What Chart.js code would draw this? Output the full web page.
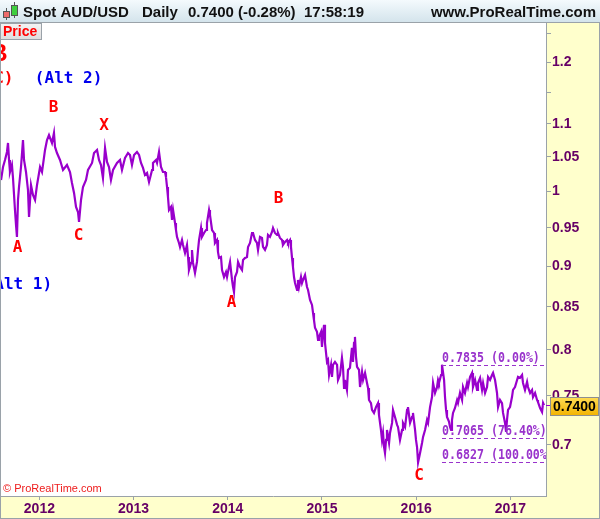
<!DOCTYPE html>
<html>
<head>
<meta charset="utf-8">
<title>Spot AUD/USD Daily</title>
<script src="https://cdn.jsdelivr.net/npm/chart.js@4.4.1/dist/chart.umd.min.js"></script>
<style>
  html, body { margin: 0; padding: 0; background: #fff; }
  #wrap { width: 600px; height: 519px; }
</style>
</head>
<body>
<div id="wrap"><canvas id="aud-canvas" width="600" height="519"></canvas></div>
<script>
(function() {
    'use strict';

    // AUD/USD daily closes (decimal year -> price)
    var dates = [
        2011.593,2011.614,2011.635,2011.656,2011.667,2011.678,2011.688,2011.709,2011.720,2011.741,2011.752,2011.762,2011.773,2011.784,2011.805,2011.826,2011.837,2011.858,2011.879,2011.890,2011.911,2011.932,2011.954,2011.975,
        2012.007,2012.028,2012.060,2012.081,2012.102,2012.134,2012.155,2012.166,2012.187,2012.219,2012.251,2012.293,2012.325,2012.346,2012.368,2012.389,2012.410,2012.421,2012.442,2012.463,2012.495,2012.516,2012.559,2012.580,2012.612,2012.633,
        2012.654,2012.675,2012.697,2012.718,2012.739,2012.760,2012.782,2012.824,2012.856,2012.877,2012.909,2012.941,2012.962,2012.983,
        2013.005,2013.036,2013.058,2013.079,2013.100,2013.121,2013.143,2013.164,2013.196,2013.206,2013.238,2013.249,2013.270,2013.291,2013.312,2013.334,2013.344,2013.355,2013.365,2013.376,2013.397,2013.408,2013.419,2013.440,2013.450,2013.461,2013.482,2013.493,2013.514,2013.525,2013.546,2013.567,2013.578,2013.588,2013.610,2013.620,2013.631,2013.652,2013.673,2013.684,2013.695,2013.716,2013.726,2013.748,2013.769,2013.779,2013.801,
        2013.811,2013.833,2013.854,2013.864,2013.886,2013.896,2013.907,2013.928,2013.939,2013.960,2013.981,2013.992,
        2014.013,2014.024,2014.045,2014.056,2014.066,2014.077,2014.098,2014.109,2014.130,2014.151,2014.162,2014.183,2014.204,2014.215,2014.236,2014.257,2014.268,2014.289,2014.310,2014.321,2014.342,2014.363,2014.374,2014.395,2014.416,2014.427,2014.448,2014.469,2014.480,2014.501,2014.523,2014.533,2014.554,2014.576,2014.586,2014.608,2014.629,2014.639,2014.661,2014.671,2014.682,2014.692,2014.703,2014.714,2014.735,2014.745,2014.756,2014.777,2014.788,2014.799,2014.820,2014.841,2014.852,
        2014.873,2014.894,2014.905,2014.915,2014.926,2014.947,2014.958,2014.968,2014.990,
        2015.000,2015.011,2015.022,2015.032,2015.053,2015.064,2015.075,2015.096,2015.106,2015.117,2015.138,2015.160,2015.170,2015.191,2015.212,2015.223,2015.234,2015.244,2015.265,2015.276,2015.297,2015.318,2015.329,2015.340,2015.350,2015.361,2015.372,2015.393,2015.404,2015.425,2015.436,2015.457,2015.478,2015.489,2015.499,2015.520,2015.531,2015.552,2015.573,2015.595,2015.605,2015.626,2015.637,2015.648,2015.659,2015.669,2015.680,2015.690,2015.712,2015.722,2015.744,2015.754,2015.775,2015.797,2015.807,2015.828,2015.850,2015.860,2015.882,2015.903,2015.913,2015.935,2015.956,2015.966,2015.988,2015.998,
        2016.009,2016.020,
        2016.041,2016.062,2016.073,2016.094,2016.115,2016.126,2016.147,2016.168,2016.179,2016.200,2016.221,2016.232,2016.242,2016.264,2016.274,2016.296,2016.306,2016.317,2016.327,2016.349,2016.359,2016.370,2016.380,2016.391,2016.412,2016.434,2016.444,2016.465,2016.487,2016.497,2016.518,2016.540,2016.550,2016.572,2016.593,2016.603,2016.625,2016.646,2016.656,2016.678,2016.699,2016.710,2016.731,2016.752,2016.763,2016.784,2016.805,2016.816,2016.837,2016.858,2016.869,2016.890,2016.911,2016.922,2016.943,2016.954,2016.964,2016.975,2016.996,
        2017.017,2017.028,2017.049,2017.071,2017.081,2017.102,2017.124,2017.134,2017.155,2017.177,2017.187,2017.209,2017.230,2017.240,2017.262,2017.283,2017.293,2017.315,2017.336,2017.347,2017.357
    ];
    var closes = [
        1.0163,1.0351,1.0454,1.0572,1.0707,1.0454,1.0278,1.0380,1.0192,0.9743,0.9539,0.9380,0.9881,1.0064,1.0351,1.0752,1.0454,1.0278,1.0021,0.9647,1.0092,0.9951,0.9881,1.0092,
        1.0351,1.0278,1.0602,1.0752,1.0828,1.0707,1.0859,1.0647,1.0557,1.0454,1.0307,1.0380,1.0278,1.0120,0.9979,0.9784,0.9715,0.9580,0.9881,1.0064,1.0163,1.0307,1.0410,1.0557,1.0602,1.0454,
        1.0380,1.0192,1.0632,1.0424,1.0351,1.0163,1.0307,1.0410,1.0454,1.0307,1.0483,1.0557,1.0528,1.0380,
        1.0528,1.0572,1.0528,1.0410,1.0337,1.0235,1.0264,1.0135,1.0307,1.0410,1.0454,1.0410,1.0572,1.0351,1.0278,1.0278,1.0206,1.0064,0.9923,0.9743,0.9784,0.9607,0.9743,0.9566,0.9472,0.9380,0.9300,0.9248,0.9340,0.9274,0.9170,0.9274,0.9119,0.8953,0.9043,0.9209,0.9043,0.8915,0.9055,0.9209,0.9340,0.9499,0.9380,0.9432,0.9472,0.9566,0.9743,
        0.9674,0.9472,0.9432,0.9300,0.9340,0.9183,0.9106,0.9119,0.8953,0.8865,0.8928,0.8865,
        0.8992,0.9055,0.8828,0.8741,0.8680,0.8865,0.8928,0.9055,0.8992,0.8953,0.9081,0.9106,0.9119,0.9248,0.9300,0.9432,0.9432,0.9340,0.9300,0.9209,0.9380,0.9366,0.9248,0.9209,0.9274,0.9406,0.9380,0.9446,0.9499,0.9432,0.9406,0.9432,0.9366,0.9340,0.9274,0.9314,0.9340,0.9300,0.9340,0.9248,0.9106,0.8992,0.8865,0.8790,0.8705,0.8828,0.8741,0.8865,0.8790,0.8828,0.8890,0.8741,0.8705,
        0.8583,0.8523,0.8427,0.8344,0.8253,0.8206,0.8113,0.8148,0.8206,
        0.8034,0.8194,0.8287,0.8079,0.7866,0.7887,0.7722,0.7833,0.7701,0.7833,0.7866,0.7833,0.7668,0.7722,0.7911,0.7811,0.7582,0.7668,0.7561,0.7777,0.7800,0.8023,0.7866,0.8079,0.8148,0.7922,0.7811,0.7777,0.7592,0.7756,0.7668,0.7745,0.7636,0.7582,0.7455,0.7423,0.7351,0.7320,0.7381,0.7423,0.7299,0.7147,0.7047,0.7117,0.6977,0.6919,0.7047,0.7147,0.7017,0.7117,0.7218,0.7351,0.7279,0.7198,0.7177,0.7047,0.7147,0.7218,0.7177,0.7351,0.7381,0.7218,0.7279,0.7320,0.7147,0.7047,
        0.6977,0.6827,
        0.6919,0.7017,0.7077,0.7147,0.7248,0.7218,0.7381,0.7486,0.7636,0.7529,0.7592,0.7668,0.7636,0.7722,0.7835,0.7668,0.7486,0.7351,0.7279,0.7228,0.7177,0.7147,0.7248,0.7320,0.7371,0.7455,0.7423,0.7529,0.7455,0.7592,0.7529,0.7636,0.7592,0.7701,0.7745,0.7592,0.7668,0.7561,0.7636,0.7690,0.7561,0.7636,0.7529,0.7592,0.7701,0.7668,0.7722,0.7745,0.7668,0.7529,0.7381,0.7455,0.7423,0.7320,0.7218,0.7127,0.7248,0.7351,0.7381,
        0.7486,0.7561,0.7592,0.7668,0.7701,0.7690,0.7722,0.7636,0.7561,0.7647,0.7592,0.7529,0.7561,0.7486,0.7529,0.7455,0.7434,0.7371,0.7330,0.7423,0.7400
    ];

    var yearTicks = [2012, 2013, 2014, 2015, 2016, 2017];
    var priceTicks = [0.7, 0.75, 0.8, 0.85, 0.9, 0.95, 1, 1.05, 1.1, 1.15, 1.2, 1.25];
    var unlabeledTicks = [1.15, 1.25];

    // fibonacci retracement of the 2016 swing
    var fibLevels = [0.7835, 0.7065, 0.6827];
    var fibLabels = ['0.7835 (0.00%)', '0.7065 (76.40%)', '0.6827 (100.00%)'];
    var fibStart = 2016.274;

    // elliott wave labels (text, date, price)
    var waveText = ['B', 'X', 'A', 'C', 'B', 'A', 'C'];
    var waveDates = [2012.150, 2012.686, 2011.768, 2012.415, 2014.539, 2014.040, 2016.030];
    var wavePrices = [1.1248, 1.0966, 0.9235, 0.9392, 0.9895, 0.8547, 0.6699];
    var degreeText = ['B', '(C)'];
    var degreeDates = [2011.571, 2011.571];
    var degreePrices = [1.2137, 1.1717];
    var altText = ['(Alt 2)', '(Alt 1)'];
    var altDates = [2012.310, 2011.777];
    var altPrices = [1.1717, 0.8766];

    var lastPrice = '0.7400';
    var headerParts = [['Spot AUD/USD', 23], ['Daily', 142], ['0.7400 (-0.28%)', 188], ['17:58:19', 304]];
    var siteName = 'www.ProRealTime.com';

    var SANS = '"Liberation Sans", Arial, sans-serif';
    var MONO = '"DejaVu Sans Mono", monospace';
    var GRAY = '#9aa2a9';
    var PURPLE = '#660066';
    var FIB = '#9933cc';

    function drawCandles(ctx) {
        ctx.strokeStyle = '#555';
        ctx.lineWidth = 1;
        ctx.beginPath(); ctx.moveTo(6.5, 8); ctx.lineTo(6.5, 20); ctx.stroke();
        ctx.fillStyle = '#ee6b6b';
        ctx.fillRect(3.5, 11.5, 6, 6); ctx.strokeRect(3.5, 11.5, 6, 6);
        ctx.beginPath(); ctx.moveTo(14.5, 2); ctx.lineTo(14.5, 18); ctx.stroke();
        ctx.fillStyle = '#3fcf3f';
        ctx.fillRect(11.5, 5.5, 6, 10); ctx.strokeRect(11.5, 5.5, 6, 10);
    }

    function drawHeader(chart) {
        var ctx = chart.ctx;
        var w = chart.width;
        var g = ctx.createLinearGradient(0, 0, 0, 22);
        g.addColorStop(0, '#f4fafd');
        g.addColorStop(1, '#d4e4ec');
        ctx.fillStyle = g;
        ctx.fillRect(0, 0, w, 22);
        ctx.fillStyle = GRAY;
        ctx.fillRect(0, 22, w, 1);
        drawCandles(ctx);
        ctx.fillStyle = '#111';
        ctx.font = 'bold 15px ' + SANS;
        ctx.textBaseline = 'alphabetic';
        ctx.textAlign = 'left';
        for (var i = 0; i < headerParts.length; i++) {
            ctx.fillText(headerParts[i][0], headerParts[i][1], 17);
        }
        ctx.textAlign = 'right';
        ctx.fillText(siteName, w - 4, 17);

        // "Price" tag under the header
        var pg = ctx.createLinearGradient(0, 23, 0, 39);
        pg.addColorStop(0, '#f4f4f4');
        pg.addColorStop(1, '#dedede');
        ctx.fillStyle = pg;
        ctx.fillRect(0, 23, 41, 16);
        ctx.strokeStyle = GRAY;
        ctx.strokeRect(0.5, 23.5, 41, 16);
        ctx.fillStyle = '#ff0000';
        ctx.font = 'bold 14px ' + SANS;
        ctx.textAlign = 'left';
        ctx.fillText('Price', 3, 36);
    }

    function drawLabels(ctx, x, y, texts, dts, prices, font, color) {
        ctx.font = font;
        ctx.fillStyle = color;
        ctx.textAlign = 'center';
        ctx.textBaseline = 'middle';
        for (var i = 0; i < texts.length; i++) {
            ctx.fillText(texts[i], x.getPixelForValue(dts[i]), y.getPixelForValue(prices[i]));
        }
    }

    var chromePlugin = {
        id: 'chrome',
        beforeDraw: function(chart) {
            var ctx = chart.ctx, a = chart.chartArea;
            ctx.save();
            ctx.fillStyle = '#ffffff';
            ctx.fillRect(0, 0, chart.width, chart.height);
            ctx.fillStyle = '#ffffcc';
            ctx.fillRect(a.right, 22, chart.width - a.right, chart.height - 22);
            ctx.fillRect(0, a.bottom, chart.width, chart.height - a.bottom);
            ctx.restore();
        },
        afterDatasetsDraw: function(chart) {
            var ctx = chart.ctx, a = chart.chartArea;
            var x = chart.scales.x, y = chart.scales.y;
            ctx.save();
            ctx.beginPath();
            ctx.rect(a.left, a.top, a.right - a.left, a.bottom - a.top);
            ctx.clip();

            // retracement levels
            var fx = x.getPixelForValue(fibStart);
            ctx.strokeStyle = FIB;
            ctx.lineWidth = 1;
            ctx.setLineDash([4, 3]);
            ctx.fillStyle = FIB;
            ctx.textAlign = 'left';
            ctx.textBaseline = 'alphabetic';
            for (var i = 0; i < fibLevels.length; i++) {
                var py = Math.round(y.getPixelForValue(fibLevels[i])) + 0.5;
                ctx.beginPath();
                ctx.moveTo(fx, py);
                ctx.lineTo(a.right, py);
                ctx.stroke();
                // narrow, tall mono text like the original
                ctx.save();
                ctx.translate(fx, py - 3.5);
                ctx.scale(0.86, 1);
                ctx.font = 'bold 13.5px ' + MONO;
                ctx.fillText(fibLabels[i], 0, 0);
                ctx.restore();
            }
            ctx.setLineDash([]);

            drawLabels(ctx, x, y, waveText, waveDates, wavePrices, 'bold 16px ' + MONO, '#ff0000');
            drawLabels(ctx, x, y, degreeText.slice(0, 1), degreeDates.slice(0, 1), degreePrices.slice(0, 1), 'bold 24px ' + SANS, '#ff0000');
            drawLabels(ctx, x, y, degreeText.slice(1), degreeDates.slice(1), degreePrices.slice(1), 'bold 16px ' + MONO, '#ff0000');
            drawLabels(ctx, x, y, altText, altDates, altPrices, 'bold 16px ' + MONO, '#0000ee');

            ctx.font = '11px ' + SANS;
            ctx.fillStyle = '#ee1c1c';
            ctx.textAlign = 'left';
            ctx.textBaseline = 'alphabetic';
            ctx.fillText('\u00a9 ProRealTime.com', 3, a.bottom - 4);
            ctx.restore();
        },
        afterDraw: function(chart) {
            var ctx = chart.ctx, a = chart.chartArea;
            var y = chart.scales.y;
            ctx.save();
            // frame
            ctx.fillStyle = GRAY;
            ctx.fillRect(0, 22, 1, chart.height - 22);
            ctx.fillRect(chart.width - 1, 22, 1, chart.height - 22);
            ctx.fillRect(0, chart.height - 1, chart.width, 1);

            // last price box
            var py = y.getPixelForValue(Number(lastPrice));
            var top = Math.round(py) - 8;
            var bg = ctx.createLinearGradient(0, top, 0, top + 19);
            bg.addColorStop(0, '#ffdd55');
            bg.addColorStop(1, '#f2b200');
            ctx.fillStyle = bg;
            ctx.fillRect(a.right + 4, top, chart.width - a.right - 5, 19);
            ctx.strokeStyle = '#8f8f8f';
            ctx.lineWidth = 1;
            ctx.strokeRect(a.right + 4.5, top + 0.5, chart.width - a.right - 6, 18);
            ctx.fillStyle = '#000';
            ctx.font = 'bold 14px ' + SANS;
            ctx.textAlign = 'left';
            ctx.textBaseline = 'middle';
            ctx.fillText(lastPrice, a.right + 7, top + 10);
            ctx.strokeStyle = '#9900cc';
            ctx.beginPath();
            ctx.moveTo(a.right, Math.round(py) + 0.5);
            ctx.lineTo(a.right + 4, Math.round(py) + 0.5);
            ctx.stroke();
            ctx.restore();

            drawHeader(chart);
        }
    };

    var points = dates.map(function(d, i) { return { x: d, y: closes[i] }; });

    var ctx = document.getElementById('aud-canvas').getContext('2d');
    new Chart(ctx, {
        type: 'line',
        data: {
            datasets: [{
                data: points,
                borderColor: '#9900cc',
                borderWidth: 2.2,
                pointRadius: 0,
                tension: 0,
                fill: false
            }]
        },
        options: {
            responsive: false,
            animation: false,
            devicePixelRatio: 1,
            layout: { padding: { top: 22, left: 0, right: 0, bottom: 0 } },
            plugins: { legend: { display: false }, tooltip: { enabled: false }, title: { display: false } },
            scales: {
                x: {
                    type: 'linear',
                    position: 'bottom',
                    min: 2011.582,
                    max: 2017.378,
                    afterBuildTicks: function(scale) {
                        scale.ticks = yearTicks.map(function(v) { return { value: v }; });
                    },
                    afterFit: function(scale) { scale.height = 23; },
                    grid: { drawOnChartArea: false, drawTicks: true, tickLength: 4, color: GRAY },
                    border: { display: true, color: GRAY },
                    ticks: {
                        autoSkip: false,
                        maxRotation: 0,
                        padding: 1,
                        color: PURPLE,
                        font: { family: SANS, size: 14, weight: 'bold' },
                        callback: function(v) { return String(v); }
                    }
                },
                y: {
                    type: 'logarithmic',
                    position: 'right',
                    min: 0.6512,
                    max: 1.2696,
                    afterBuildTicks: function(scale) {
                        scale.ticks = priceTicks.map(function(v) { return { value: v }; });
                    },
                    afterFit: function(scale) { scale.width = 54; },
                    grid: { drawOnChartArea: false, drawTicks: true, tickLength: 5, color: GRAY },
                    border: { display: true, color: GRAY },
                    ticks: {
                        autoSkip: false,
                        padding: 1,
                        color: PURPLE,
                        font: { family: SANS, size: 14, weight: 'bold' },
                        callback: function(v) {
                            return unlabeledTicks.indexOf(v) >= 0 ? '' : String(v);
                        }
                    }
                }
            }
        },
        plugins: [chromePlugin]
    });
})();
</script>
</body>
</html>
